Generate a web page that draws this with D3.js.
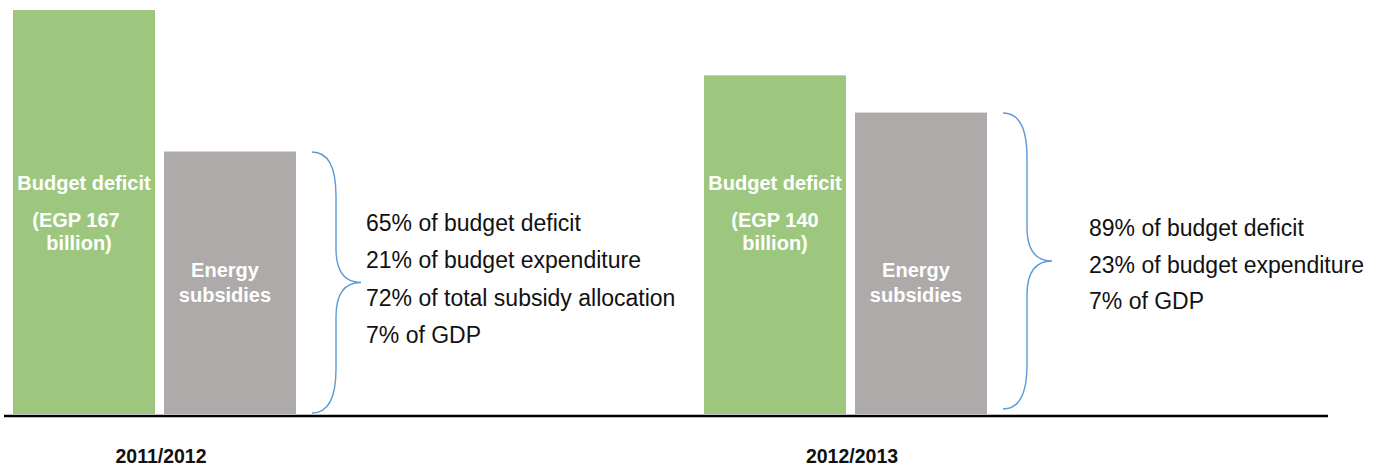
<!DOCTYPE html>
<html>
<head>
<meta charset="utf-8">
<script src="https://cdn.jsdelivr.net/npm/d3@7"></script>
<style>
  html, body { margin: 0; padding: 0; background: #fff; }
  svg { display: block; font-family: "Liberation Sans", Arial, Helvetica, sans-serif; }
</style>
</head>
<body>
<svg id="chart" width="1381" height="468"></svg>
<script>
// Fiscal years shown
const years = ["2011/2012", "2012/2013"];
// Budget deficit, EGP billion
const deficit = [167, 140];
// Energy subsidies, EGP billion (65% and 89% of the deficit)
const subsidies = [108.5, 124.6];
// Labels printed inside the bars
const deficitLabels = [["Budget deficit", "(EGP 167", "billion)"], ["Budget deficit", "(EGP 140", "billion)"]];
const subsidyLabels = [["Energy", "subsidies"], ["Energy", "subsidies"]];
// Notes listed beside each brace
const notes = [
  ["65% of budget deficit", "21% of budget expenditure", "72% of total subsidy allocation", "7% of GDP"],
  ["89% of budget deficit", "23% of budget expenditure", "7% of GDP"]
];

const svg = d3.select("#chart");
const green = "#9dc77f", grey = "#aeaaa9", blue = "#5b9bd5";

const baseY = 414;
const y = d3.scaleLinear().domain([0, 167]).range([baseY, 10]);
const x = d3.scaleBand().domain(years).range([13, 13 + 2 * 691]).paddingInner(0);

// bar geometry inside each year band
const deficitW = 142, subsidyOff = 151, subsidyW = 132;

// deficit bars
svg.selectAll("rect.deficit").data(years).join("rect")
  .attr("class", "deficit")
  .attr("x", d => x(d))
  .attr("y", (d, i) => y(deficit[i]))
  .attr("width", deficitW)
  .attr("height", (d, i) => baseY - y(deficit[i]))
  .attr("fill", green);

// subsidy bars
svg.selectAll("rect.subsidy").data(years).join("rect")
  .attr("class", "subsidy")
  .attr("x", d => x(d) + subsidyOff)
  .attr("y", (d, i) => y(subsidies[i]))
  .attr("width", subsidyW)
  .attr("height", (d, i) => baseY - y(subsidies[i]))
  .attr("fill", grey);

// baseline
svg.append("line")
  .attr("x1", 4).attr("x2", 1328)
  .attr("y1", baseY + 2).attr("y2", baseY + 2)
  .attr("stroke", "#000").attr("stroke-width", 2.5);

// labels inside the bars
const deficitLabelY = [189.5, 227, 250];
const deficitLabelDx = [[0, -8, -5], [0, 0, 0]];
years.forEach((yr, i) => {
  deficitLabels[i].forEach((t, j) => {
    svg.append("text")
      .attr("x", x(yr) + deficitW / 2 + deficitLabelDx[i][j])
      .attr("y", deficitLabelY[j])
      .attr("text-anchor", "middle")
      .attr("fill", "#fff")
      .attr("font-weight", "bold")
      .attr("font-size", 20)
      .text(t);
  });
  subsidyLabels[i].forEach((t, j) => {
    svg.append("text")
      .attr("x", x(yr) + subsidyOff + subsidyW / 2 - 5)
      .attr("y", [277, 301.5][j])
      .attr("text-anchor", "middle")
      .attr("fill", "#fff")
      .attr("font-weight", "bold")
      .attr("font-size", 20)
      .text(t);
  });
});

// braces beside the subsidy bars
function bracePath(x0, top, bottom, w, tipW, r, rMid) {
  const x1 = x0 + w, mid = (top + bottom) / 2, xm = x1 + tipW;
  return `M${x0},${top} Q${x1},${top} ${x1},${top + r} L${x1},${mid - rMid} Q${x1},${mid} ${xm},${mid}` +
         ` Q${x1},${mid} ${x1},${mid + rMid} L${x1},${bottom - r} Q${x1},${bottom} ${x0},${bottom}`;
}
const braceBottom = [413, 409];
years.forEach((yr, i) => {
  const bx = x(yr) + subsidyOff + subsidyW + 16;
  svg.append("path")
    .attr("d", bracePath(bx, y(subsidies[i]) + 0.5, braceBottom[i], 24, 25, 44, 34))
    .attr("fill", "none")
    .attr("stroke", blue)
    .attr("stroke-width", 1.4);
});

// notes
const noteX = [366, 1089];
const noteY0 = [230.5, 236];
const noteStep = [37.5, 36.5];
years.forEach((yr, i) => {
  svg.append("g").selectAll("text").data(notes[i]).join("text")
    .attr("x", noteX[i])
    .attr("y", (d, j) => noteY0[i] + j * noteStep[i])
    .attr("font-size", 23)
    .attr("fill", "#111")
    .text(d => d);
});

// year labels
svg.selectAll("text.year").data(years).join("text")
  .attr("class", "year")
  .attr("x", d => x(d) + 148)
  .attr("y", 463)
  .attr("text-anchor", "middle")
  .attr("font-weight", "bold")
  .attr("font-size", 19.5)
  .attr("fill", "#111")
  .text(d => d);
</script>
</body>
</html>
